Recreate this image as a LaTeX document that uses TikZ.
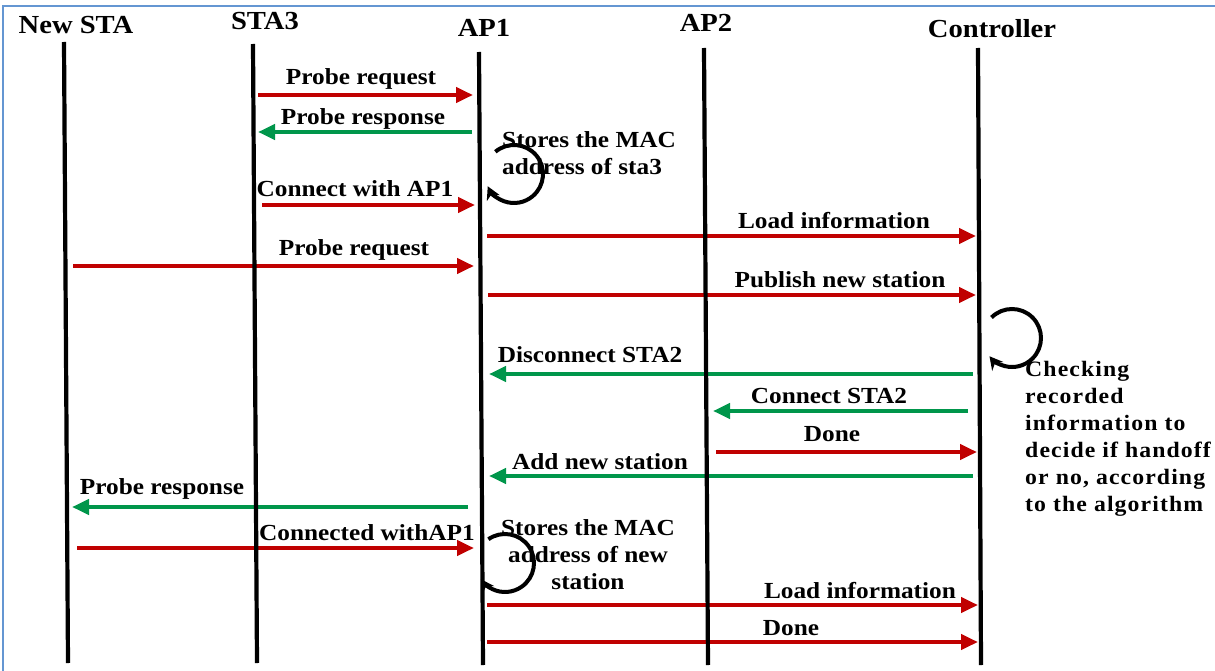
\documentclass[tikz,border=0pt]{standalone}
\usepackage{fontspec}
\setmainfont{Liberation Serif}
\newfontfamily\lblfont[FakeStretch=1.1]{Liberation Serif}
\newfontfamily\chkfont[FakeStretch=1.08,LetterSpace=5]{Liberation Serif}
\usetikzlibrary{arrows.meta}
\definecolor{msgred}{RGB}{192,0,0}
\definecolor{msggreen}{RGB}{0,150,75}
\definecolor{frameblue}{RGB}{100,150,210}
\tikzset{
  hdr/.style={font=\lblfont\bfseries\fontsize{26}{28}\selectfont, inner sep=0pt},
  lbl/.style={font=\lblfont\bfseries\fontsize{23}{27}\selectfont, inner sep=0pt},
  chk/.style={font=\chkfont\bfseries\fontsize{22}{27}\selectfont, inner sep=0pt},
  life/.style={line width=4.2pt, black},
  req/.style={line width=4.2pt, msgred, -{Triangle[length=17pt,width=15pt]}},
  rsp/.style={line width=4.2pt, msggreen, -{Triangle[length=17pt,width=15pt]}},
  selfloop/.style={line width=4pt, black, -{Stealth[length=13pt,width=14pt]}},
}
\begin{document}
\begin{tikzpicture}[x=1pt,y=-1pt]
\useasboundingbox (0,0) rectangle (1215,671);
\fill[white] (0,0) rectangle (1215,671);
% frame (top and left edges only)
\draw[frameblue, line width=2pt] (3,671) -- (3,6.5) -- (1215,6.5);

% headers
\node[hdr] (hNS) at (76,25) {New STA};
\node[hdr] (hS3) at (265,21) {STA3};
\node[hdr] (hA1) at (484,28) {AP1};
\node[hdr] (hA2) at (706,23) {AP2};
\node[hdr] (hC)  at (992,29) {Controller};

% lifeline end points
\coordinate (nsT) at (64,42);   \coordinate (nsB) at (68,663);
\coordinate (s3T) at (253,44);  \coordinate (s3B) at (257,663);
\coordinate (a1T) at (479,52);  \coordinate (a1B) at (483,665);
\coordinate (a2T) at (704,48);  \coordinate (a2B) at (708,665);
\coordinate (cT)  at (978,48);  \coordinate (cB)  at (981,665);

% message end points
\coordinate (m1s) at (258,95);   \coordinate (m1e) at (473,95);
\coordinate (m2s) at (472,132);  \coordinate (m2e) at (258,132);
\coordinate (m3s) at (262,205);  \coordinate (m3e) at (475,205);
\coordinate (m4s) at (487,236);  \coordinate (m4e) at (976,236);
\coordinate (m5s) at (73,266);   \coordinate (m5e) at (474,266);
\coordinate (m6s) at (488,295);  \coordinate (m6e) at (976,295);
\coordinate (m7s) at (973,374);  \coordinate (m7e) at (489,374);
\coordinate (m8s) at (968,411);  \coordinate (m8e) at (713,411);
\coordinate (m9s) at (716,452);  \coordinate (m9e) at (977,452);
\coordinate (m10s) at (973,476); \coordinate (m10e) at (489,476);
\coordinate (m11s) at (468,507); \coordinate (m11e) at (72,507);
\coordinate (m12s) at (77,548);  \coordinate (m12e) at (474,548);
\coordinate (m13s) at (487,605); \coordinate (m13e) at (978,605);
\coordinate (m14s) at (487,642); \coordinate (m14e) at (978,642);

% messages
\draw[req] (m1s) -- (m1e);
\draw[rsp] (m2s) -- (m2e);
\draw[req] (m3s) -- (m3e);
\draw[req] (m4s) -- (m4e);
\draw[req] (m5s) -- (m5e);
\draw[req] (m6s) -- (m6e);
\draw[rsp] (m7s) -- (m7e);
\draw[rsp] (m8s) -- (m8e);
\draw[req] (m9s) -- (m9e);
\draw[rsp] (m10s) -- (m10e);
\draw[rsp] (m11s) -- (m11e);
\draw[req] (m12s) -- (m12e);
\draw[req] (m13s) -- (m13e);
\draw[req] (m14s) -- (m14e);

% lifelines (drawn over the messages)
\draw[life] (nsT) -- (nsB);
\draw[life] (s3T) -- (s3B);
\draw[life] (a1T) -- (a1B);
\draw[life] (a2T) -- (a2B);
\draw[life] (cT) -- (cB);

% message labels
\node[lbl] (l1)  at (361,79)  {Probe request};
\node[lbl] (l2)  at (363,119) {Probe response};
\node[lbl] (l3)  at (355,189) {Connect with AP1};
\node[lbl] (l4)  at (834,221) {Load information};
\node[lbl] (l5)  at (354,250) {Probe request};
\node[lbl] (l6)  at (840,280) {Publish new station};
\node[lbl] (l7)  at (590,355) {Disconnect STA2};
\node[lbl] (l8)  at (829,396) {Connect STA2};
\node[lbl] (l9)  at (832,434) {Done};
\node[lbl] (l10) at (600,462) {Add new station};
\node[lbl] (l11) at (162,489) {Probe response};
\node[lbl] (l12) at (367,533) {Connected withAP1};
\node[lbl] (l13) at (860,591) {Load information};
\node[lbl] (l14) at (791,628) {Done};

% notes
\node[lbl, anchor=west, align=left] (n1) at (502,153.5) {Stores the MAC\\address of sta3};
\node[lbl, align=center] (n3) at (588,554.5) {Stores the MAC\\address of new\\station};
\node[chk, anchor=west, align=left] (n2) at (1025,438.5)
  {Checking\\recorded\\information to\\decide if handoff\\or no, according\\to the algorithm};

% self loops
\draw[selfloop] (514,174) ++(-130:29) arc[start angle=-130, end angle=155, radius=29];
\draw[selfloop] (1012,338) ++(-135:29) arc[start angle=-135, end angle=141, radius=29];
\draw[selfloop] (505,563) ++(-125:29) arc[start angle=-125, end angle=146, radius=29];
\end{tikzpicture}
\end{document}
